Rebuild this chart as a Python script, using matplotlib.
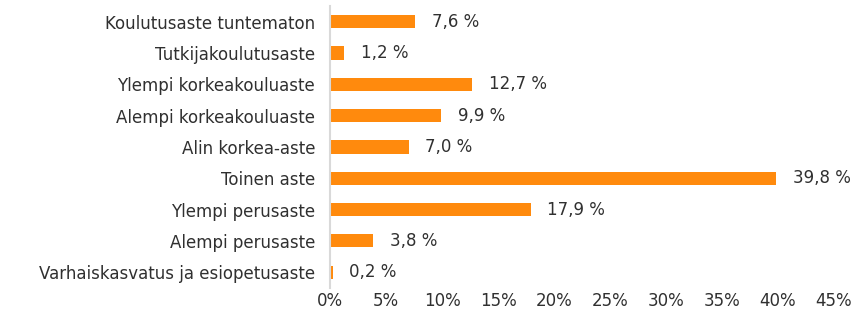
import matplotlib
matplotlib.use('Agg')
import matplotlib.pyplot as plt
from matplotlib.ticker import FuncFormatter

# luokat ylhäältä alas
categories = ['Koulutusaste tuntematon', 'Tutkijakoulutusaste', 'Ylempi korkeakouluaste',
              'Alempi korkeakouluaste', 'Alin korkea-aste', 'Toinen aste',
              'Ylempi perusaste', 'Alempi perusaste', 'Varhaiskasvatus ja esiopetusaste']
values = [7.6, 1.2, 12.7, 9.9, 7.0, 39.8, 17.9, 3.8, 0.2]
xticks = [0, 5, 10, 15, 20, 25, 30, 35, 40, 45]

plt.rcParams['font.family'] = ['DejaVu Sans']
txt = '#303030'
fs = 12

fig = plt.figure(figsize=(8.58, 3.16), dpi=100)
ax = fig.add_axes([0.385, 0.089, 0.587, 0.892])

y = list(range(len(categories)))
ax.barh(y, values, height=0.42, color='#FF8A0D')
for yi, v in zip(y, values):
    ax.text(v + 1.5, yi, f'{v:.1f} %'.replace('.', ','), va='center', ha='left',
            fontsize=fs, color=txt)

ax.set_yticks(y)
ax.set_yticklabels(categories, fontsize=fs, color=txt)
ax.set_ylim(len(categories) - 0.5, -0.5)
ax.set_xlim(0, 45)
ax.set_xticks(xticks)
ax.xaxis.set_major_formatter(FuncFormatter(lambda x, p: f'{x:.0f}%'))
ax.tick_params(axis='x', labelsize=fs, colors=txt, length=0, pad=3)
ax.tick_params(axis='y', length=0, pad=11)

for s in ['top', 'right', 'bottom']:
    ax.spines[s].set_visible(False)
ax.spines['left'].set_color('#D9D9D9')
ax.spines['left'].set_linewidth(1.5)

fig.savefig('out.png', dpi=100)
